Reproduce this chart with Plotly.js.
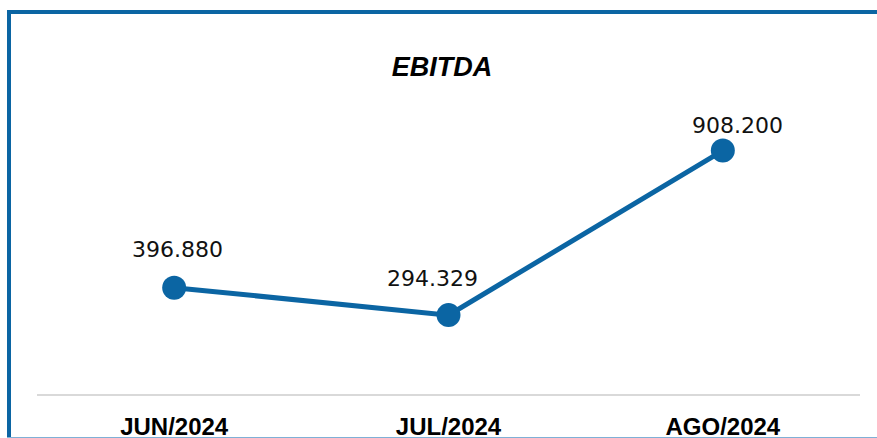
<!DOCTYPE html>
<html>
<head>
<meta charset="utf-8">
<script src="https://cdn.plot.ly/plotly-3.0.1.min.js"></script>
<style>
  html, body { margin: 0; padding: 0; background: #fff; }
  #wrap { position: relative; width: 877px; height: 438px; overflow: hidden; }
  #chart { position: absolute; left: 0; top: 0; width: 877px; height: 438px; }
  #frame { position: absolute; left: 7px; top: 10px; width: 880px; height: 440px;
           border-left: 4px solid #0B65A3; border-top: 4px solid #0B65A3; pointer-events: none; }
  #bottomline { position: absolute; left: 7px; top: 437px; width: 880px; height: 1px;
           background: #7FB0D6; pointer-events: none; }
</style>
</head>
<body>
<div id="wrap">
  <div id="chart"></div>
  <div id="frame"></div>
  <div id="bottomline"></div>
</div>
<script>
const categories = ["JUN/2024", "JUL/2024", "AGO/2024"];
const ebitda = [396.880, 294.329, 908.200];
const labels = ["396.880", "294.329", "908.200"];

// label offsets (pixels) relative to each point
const labelXShift = [3, -16, 15];
const labelYShift = [38, 37, 25];

const color = "#0B65A3";

const trace = {
  x: categories,
  y: ebitda,
  type: "scatter",
  mode: "lines+markers",
  line: { color: color, width: 5 },
  marker: { color: color, size: 24 },
  hoverinfo: "skip"
};

const annotations = categories.map((c, i) => ({
  x: c, y: ebitda[i], xref: "x", yref: "y",
  text: labels[i], showarrow: false,
  xanchor: "center", yanchor: "middle",
  xshift: labelXShift[i], yshift: labelYShift[i],
  font: { family: "DejaVu Sans", size: 22, color: "#111" }
}));

const layout = {
  width: 877, height: 438,
  margin: { l: 37, r: 17, t: 126, b: 44 },
  paper_bgcolor: "#fff", plot_bgcolor: "#fff",
  showlegend: false,
  title: {
    text: "<b><i>EBITDA</i></b>",
    font: { family: "Liberation Sans", size: 27, color: "#000" },
    x: 442 / 877, xanchor: "center", xref: "container",
    y: 1 - 67 / 438, yref: "container", yanchor: "middle"
  },
  xaxis: {
    type: "category",
    range: [-0.5, 2.5],
    showgrid: false, zeroline: false,
    showline: true, linecolor: "#D9D9D9", linewidth: 2,
    ticks: "outside", ticklen: 10, tickcolor: "rgba(0,0,0,0)",
    tickfont: { family: "Liberation Sans", size: 24, color: "#000", weight: "bold" },
    fixedrange: true
  },
  yaxis: {
    range: [0, 1000],
    visible: false,
    showgrid: false, zeroline: false,
    fixedrange: true
  },
  annotations: annotations
};

Plotly.newPlot("chart", [trace], layout, { displayModeBar: false, staticPlot: true });
</script>
</body>
</html>
